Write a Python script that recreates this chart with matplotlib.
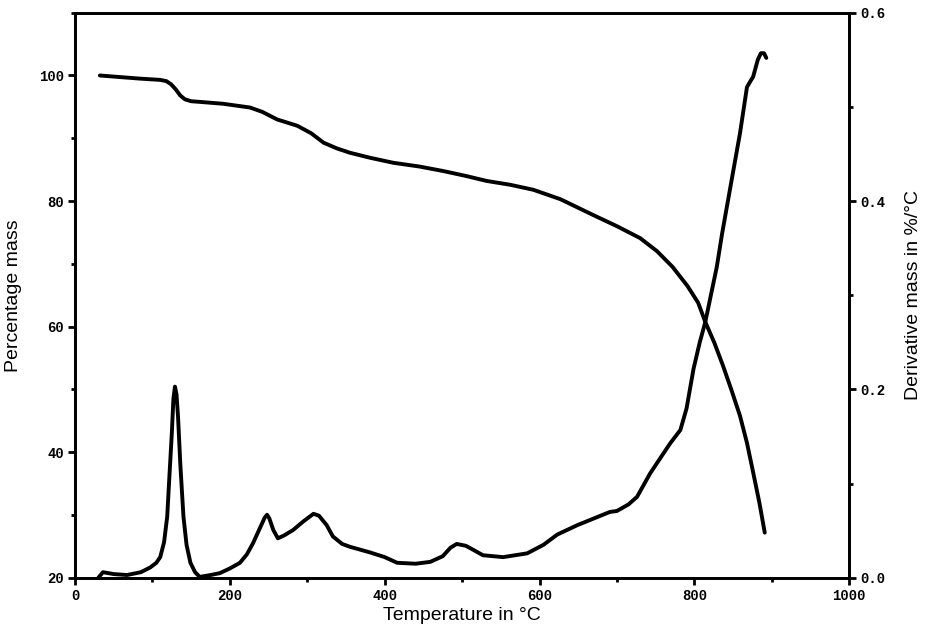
import matplotlib
matplotlib.use('Agg')
from matplotlib import pyplot as plt
from matplotlib.ticker import MultipleLocator, FormatStrFormatter

# mass curve (TG)
mass_temp = [32, 84, 110, 118, 124, 130, 136, 142, 150, 161, 191, 226, 242, 261, 287, 305,
             321, 338, 355, 381, 411, 445, 475, 505, 532, 562, 592, 627, 669, 700, 730, 752,
             772, 791, 805, 814, 826, 837, 848, 859, 868, 876, 884, 891]
mass_pct = [100.0, 99.5, 99.3, 99.1, 98.6, 97.8, 96.8, 96.2, 95.9, 95.8, 95.5, 94.9, 94.2,
            93.0, 92.0, 90.8, 89.3, 88.4, 87.7, 86.9, 86.1, 85.5, 84.8, 84.0, 83.2, 82.6,
            81.8, 80.3, 77.8, 76.0, 74.1, 72.0, 69.5, 66.5, 63.8, 60.8, 57.4, 53.8, 49.9,
            45.8, 41.5, 36.8, 32.0, 27.2]

# derivative curve (DTG)
dtg_temp = [30, 36, 50, 67, 85, 97, 105, 110, 115, 119, 122, 125, 127, 129, 131, 133, 136,
            140, 144, 149, 155, 161, 175, 187, 200, 213, 222, 230, 240, 245, 248, 251, 256,
            262, 270, 282, 295, 308, 315, 325, 333, 345, 355, 381, 400, 416, 440, 459, 475,
            485, 493, 505, 527, 553, 584, 605, 623, 649, 670, 691, 700, 715, 726, 743, 760,
            769, 782, 790, 799, 807, 814, 829, 836, 849, 859, 868, 873, 876, 882, 886, 890, 893]
dtg_val = [0.0, 0.006, 0.004, 0.003, 0.006, 0.011, 0.016, 0.022, 0.038, 0.065, 0.110, 0.154,
           0.190, 0.203, 0.195, 0.171, 0.120, 0.065, 0.035, 0.016, 0.006, 0.001, 0.003, 0.005,
           0.010, 0.016, 0.025, 0.037, 0.055, 0.064, 0.067, 0.063, 0.051, 0.042, 0.045, 0.051,
           0.060, 0.068, 0.066, 0.056, 0.044, 0.036, 0.033, 0.027, 0.022, 0.016, 0.015, 0.017,
           0.023, 0.032, 0.036, 0.034, 0.024, 0.022, 0.026, 0.035, 0.046, 0.056, 0.063, 0.070,
           0.071, 0.078, 0.086, 0.111, 0.132, 0.143, 0.157, 0.180, 0.222, 0.250, 0.271, 0.330,
           0.366, 0.426, 0.472, 0.521, 0.528, 0.532, 0.550, 0.557, 0.557, 0.552]

tick_font = {'family': 'Liberation Mono', 'weight': 'bold', 'size': 10}
label_font = {'family': 'Liberation Sans', 'size': 14}

fig = plt.figure(figsize=(9.27, 6.35), dpi=100)
ax = fig.add_axes([0.081, 0.090, 0.835, 0.890])
ax2 = ax.twinx()

ax.plot(mass_temp, mass_pct, color='black', lw=2.8, solid_capstyle='round', solid_joinstyle='round')
ax2.plot(dtg_temp, dtg_val, color='black', lw=2.8, solid_capstyle='round', solid_joinstyle='round')

ax.set_xlim(0, 1000)
ax.set_ylim(20, 110)
ax2.set_ylim(0, 0.6)

ax.xaxis.set_major_locator(MultipleLocator(200))
ax.xaxis.set_minor_locator(MultipleLocator(100))
ax.yaxis.set_major_locator(MultipleLocator(20))
ax.yaxis.set_minor_locator(MultipleLocator(10))
ax2.yaxis.set_major_locator(MultipleLocator(0.2))
ax2.yaxis.set_minor_locator(MultipleLocator(0.1))
ax2.yaxis.set_major_formatter(FormatStrFormatter('%.1f'))

for a in (ax, ax2):
    for s in a.spines.values():
        s.set_linewidth(2)
    a.tick_params(which='major', length=5, width=2, direction='out', pad=3)
    a.tick_params(which='minor', length=3, width=2, direction='out')
    for lbl in a.get_xticklabels() + a.get_yticklabels():
        lbl.set_fontfamily(tick_font['family'])
        lbl.set_fontweight(tick_font['weight'])
        lbl.set_fontsize(tick_font['size'])

ax.set_xlabel('Temperature in °C', fontdict=label_font, labelpad=3)
ax.set_ylabel('Percentage mass', fontdict=label_font, labelpad=12)
ax2.set_ylabel('Derivative mass in %/°C', fontdict=label_font, labelpad=14)

fig.savefig('out.png', dpi=100)
